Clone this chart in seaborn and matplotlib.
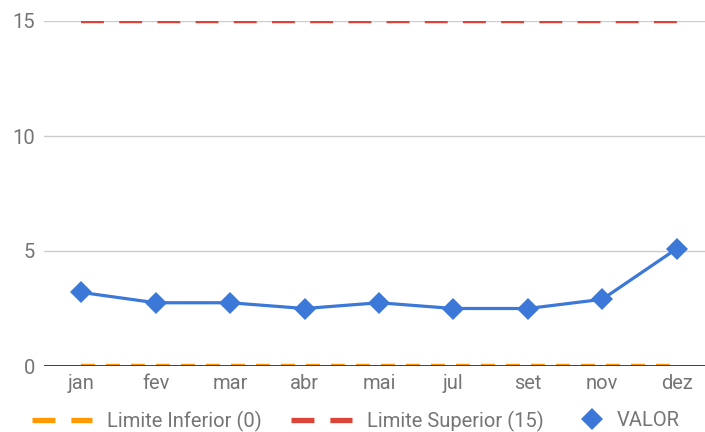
import matplotlib
matplotlib.use("Agg")
import matplotlib.pyplot as plt
from matplotlib.lines import Line2D
import pandas as pd
import seaborn as sns

meses = ["jan", "fev", "mar", "abr", "mai", "jul", "set", "nov", "dez"]
valor = [3.2, 2.75, 2.75, 2.5, 2.75, 2.5, 2.5, 2.9, 5.1]
limite_inferior = [0] * len(meses)
limite_superior = [15] * len(meses)

azul = "#3c78d8"
vermelho = "#db4437"
laranja = "#ff9900"
cinza = "#757575"
fs = 14.5

sns.set_style("white")
plt.rcParams["font.family"] = ["Roboto", "DejaVu Sans"]

df = pd.DataFrame({"mes": meses, "valor": valor,
                   "inf": limite_inferior, "sup": limite_superior})

fig = plt.figure(figsize=(7.05, 4.32), dpi=100)
ax = fig.add_axes([44 / 705, 66 / 432, 1 - 44 / 705, 345 / 432])

# grid lines
for y in [5, 10, 15]:
    ax.axhline(y, color="#cccccc", lw=1, zorder=0)
ax.axhline(0, color="#333333", lw=1.3, zorder=2.5)

# limits (dashed)
sns.lineplot(data=df, x="mes", y="sup", ax=ax, color=vermelho, sort=False)
sup_line = ax.lines[-1]
sup_line.set_linewidth(3.2)
sup_line.set_linestyle((0, (16.5 / 3.2, 11 / 3.2)))
sup_line.set_zorder(2)

sns.lineplot(data=df, x="mes", y="inf", ax=ax, color=laranja, sort=False)
inf_line = ax.lines[-1]
inf_line.set_linewidth(3.2)
inf_line.set_linestyle((0, (10 / 3.2, 8 / 3.2)))
inf_line.set_zorder(2)

sns.lineplot(data=df, x="mes", y="valor", ax=ax, color=azul, linewidth=2.3,
             marker="D", markersize=11.5, markeredgewidth=0, sort=False)
ax.lines[-1].set_zorder(3)

ax.set_xlim(-0.5, 8.38)
ax.set_ylim(0, 15)
ax.set_yticks([0, 5, 10, 15])
ax.set_xlabel("")
ax.set_ylabel("")
ax.tick_params(axis="both", length=0, labelsize=fs, labelcolor=cinza)
ax.tick_params(axis="x", pad=6)
ax.tick_params(axis="y", pad=6.5)
for s in ax.spines.values():
    s.set_visible(False)

# legend: dashed limits
dash_handles = [
    Line2D([], [], color=laranja, lw=3.8, linestyle=(0, (16.5 / 3.8, 11.5 / 3.8))),
    Line2D([], [], color=vermelho, lw=3.8, linestyle=(0, (16.5 / 3.8, 11.5 / 3.8))),
]
leg1 = fig.legend(dash_handles, ["Limite Inferior (0)", "Limite Superior (15)"],
                  loc="center left", bbox_to_anchor=(32 / 705, 11 / 432),
                  ncol=2, frameon=False, fontsize=fs, handlelength=3.0,
                  columnspacing=1.45, handletextpad=0.74,
                  borderpad=0, borderaxespad=0)
for t in leg1.get_texts():
    t.set_color(cinza)

# legend: valor marker
valor_handle = Line2D([], [], color=azul, marker="D", markersize=11.5, lw=0,
                      markeredgewidth=0)
leg2 = fig.legend([valor_handle], ["VALOR"], loc="center left",
                  bbox_to_anchor=(582 / 705, 11 / 432), frameon=False,
                  fontsize=fs, handlelength=1.0, handletextpad=0.74,
                  borderpad=0, borderaxespad=0)
for t in leg2.get_texts():
    t.set_color(cinza)

fig.savefig("out.png", dpi=100)
